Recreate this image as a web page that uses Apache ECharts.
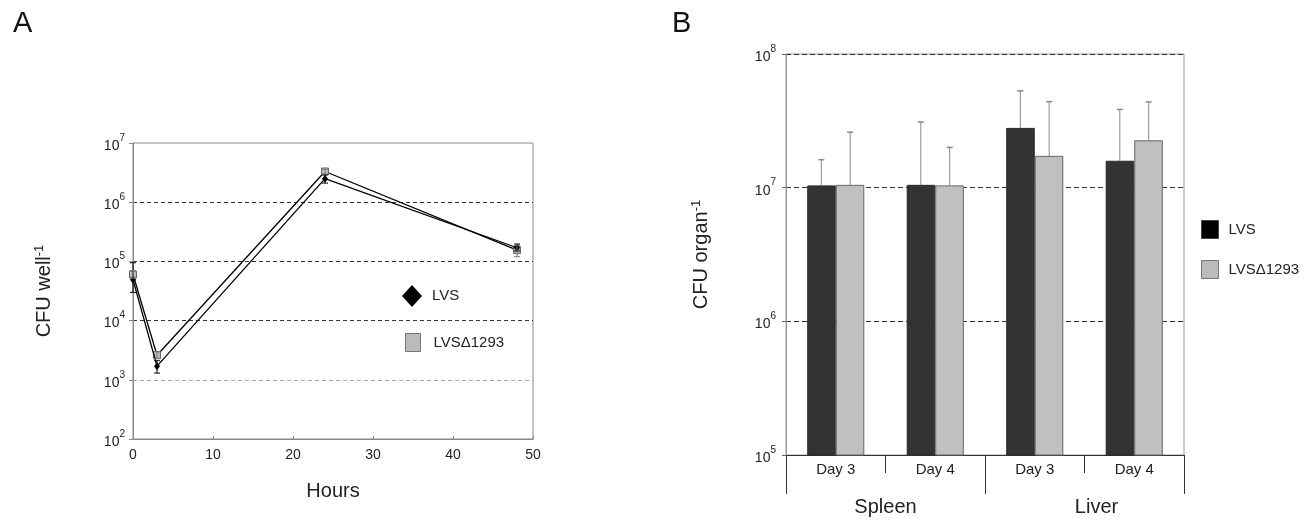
<!DOCTYPE html>
<html>
<head>
<meta charset="utf-8">
<title>CFU charts</title>
<script src="https://cdn.jsdelivr.net/npm/echarts@6.0.0/dist/echarts.min.js"></script>
<style>
  html, body { margin: 0; padding: 0; background: #fff; }
  #main { width: 1313px; height: 520px; }
</style>
</head>
<body>
<div id="main"></div>
<script>
// panel A: time course in wells
var hours = [0, 3, 24, 48];
var lvsWell = [4.9e4, 1.7e3, 2.5e6, 1.7e5];
var lvsWellLow = [3.0e4, 1.3e3, 2.1e6, 1.5e5];
var lvsWellHigh = [9.5e4, 2.1e3, 2.9e6, 1.9e5];
var mutWell = [6.0e4, 2.6e3, 3.3e6, 1.55e5];
var mutWellLow = [5.2e4, 2.3e3, 3.0e6, 1.2e5];
var mutWellHigh = [7.0e4, 3.0e3, 3.6e6, 2.0e5];

// panel B: organ burden
var dayLabels = ['Day 3', 'Day 4', 'Day 3', 'Day 4'];
var organs = ['Spleen', 'Liver'];
var lvsOrgan = [1.04e7, 1.05e7, 2.8e7, 1.59e7];
var lvsOrganTop = [1.62e7, 3.1e7, 5.3e7, 3.85e7];
var mutOrgan = [1.05e7, 1.04e7, 1.73e7, 2.26e7];
var mutOrganTop = [2.6e7, 2.0e7, 4.4e7, 4.38e7];

var FONT = 'Liberation Sans, Arial, sans-serif';

function powLabel(v) {
  return '{b|10}{s|' + Math.round(Math.log10(v)) + '}';
}
var powRich = {
  b: { fontSize: 14, color: '#222', fontFamily: FONT, lineHeight: 20, verticalAlign: 'bottom' },
  s: { fontSize: 10, color: '#222', fontFamily: FONT, lineHeight: 20, verticalAlign: 'top', padding: [0, 0, 3, 0] }
};
var nameRich = {
  a: { fontSize: 20, color: '#222', fontFamily: FONT, lineHeight: 26 },
  s: { fontSize: 13, color: '#222', fontFamily: FONT, lineHeight: 26, padding: [0, 0, 9, 0] }
};

// error bars for the time course (both directions)
function errA(color) {
  return function (params, api) {
    var lo = api.coord([api.value(0), api.value(1)]);
    var hi = api.coord([api.value(0), api.value(2)]);
    var st = { stroke: color, lineWidth: 1 };
    return {
      type: 'group',
      children: [
        { type: 'line', shape: { x1: lo[0], y1: lo[1], x2: hi[0], y2: hi[1] }, style: st },
        { type: 'line', shape: { x1: lo[0] - 3, y1: lo[1], x2: lo[0] + 3, y2: lo[1] }, style: st },
        { type: 'line', shape: { x1: hi[0] - 3, y1: hi[1], x2: hi[0] + 3, y2: hi[1] }, style: st }
      ]
    };
  };
}

// error bars on top of the bars (upper only)
function errB(side, color) {
  return function (params, api) {
    var c = api.value(0);
    var base = api.coord([c, api.value(1)]);
    var top = api.coord([c, api.value(2)]);
    var band = api.coord([c + 1, api.value(1)])[0] - base[0];
    var x = base[0] + side * band * 0.145;
    return {
      type: 'group',
      children: [
        { type: 'line', shape: { x1: x, y1: base[1], x2: x, y2: top[1] }, style: { stroke: color, lineWidth: 1 } },
        { type: 'line', shape: { x1: x - 3, y1: top[1], x2: x + 3, y2: top[1] }, style: { stroke: color, lineWidth: 1.5 } }
      ]
    };
  };
}

var chart = echarts.init(document.getElementById('main'));

var option = {
  backgroundColor: '#fff',
  animation: false,
  textStyle: { fontFamily: FONT },
  title: [
    { text: 'A', left: 8, top: 4, textStyle: { fontSize: 29, fontWeight: 'normal', color: '#111', fontFamily: FONT } },
    { text: 'B', left: 667, top: 4, textStyle: { fontSize: 29, fontWeight: 'normal', color: '#111', fontFamily: FONT } }
  ],
  grid: [
    { left: 133, top: 143, width: 400, height: 296, show: true, borderColor: '#888', borderWidth: 1 },
    { left: 786, top: 54, width: 398, height: 401, show: true, borderColor: '#999', borderWidth: 1 }
  ],
  legend: [
    {
      left: 402, top: 285, padding: 0, selectedMode: false, itemWidth: 20, itemHeight: 22,
      data: [{ name: 'LVS', icon: 'diamond', itemStyle: { color: '#000', borderWidth: 0 } }],
      textStyle: { fontSize: 15, color: '#222', padding: [0, 0, 0, 5] }
    },
    {
      left: 405, top: 333, padding: 0, selectedMode: false, itemWidth: 15, itemHeight: 18,
      data: [{ name: 'LVSΔ1293', icon: 'rect', itemStyle: { color: '#bbb', borderColor: '#777', borderWidth: 1 } }],
      textStyle: { fontSize: 15, color: '#222', padding: [0, 0, 0, 8] }
    },
    {
      left: 1201, top: 220, padding: 0, selectedMode: false, itemWidth: 17, itemHeight: 18,
      data: [{ name: 'LVS', icon: 'rect', itemStyle: { color: '#000', borderColor: '#444', borderWidth: 1 } }],
      textStyle: { fontSize: 15, color: '#222', padding: [0, 0, 0, 5] }
    },
    {
      left: 1201, top: 260, padding: 0, selectedMode: false, itemWidth: 17, itemHeight: 18,
      data: [{ name: 'LVSΔ1293', icon: 'rect', itemStyle: { color: '#bbb', borderColor: '#777', borderWidth: 1 } }],
      textStyle: { fontSize: 15, color: '#222', padding: [0, 0, 0, 5] }
    }
  ],
  xAxis: [
    {
      gridIndex: 0, type: 'value', min: 0, max: 50, interval: 10,
      name: 'Hours', nameLocation: 'middle', nameGap: 42,
      nameTextStyle: { fontSize: 20, color: '#222' },
      axisLine: { lineStyle: { color: '#888' } },
      axisTick: { show: true, inside: true, length: 3, lineStyle: { color: '#888' } },
      axisLabel: { fontSize: 14, color: '#222', margin: 9 },
      splitLine: { show: false }
    },
    {
      gridIndex: 1, type: 'category', data: dayLabels,
      axisLine: { show: true, lineStyle: { color: '#333' } },
      axisTick: { show: true, length: 18, lineStyle: { color: '#333' } },
      axisLabel: { fontSize: 15, color: '#222', margin: 7 },
      splitLine: { show: false }
    },
    {
      gridIndex: 1, type: 'category', position: 'bottom',
      data: [organs[0], { value: organs[1], textStyle: { padding: [0, 0, 0, 24] } }],
      axisLine: { show: false },
      axisTick: { show: true, length: 39, lineStyle: { color: '#333' } },
      axisLabel: { fontSize: 20, color: '#222', margin: 42 },
      splitLine: { show: false }
    }
  ],
  yAxis: [
    {
      gridIndex: 0, type: 'log', logBase: 10, min: 1e2, max: 1e7,
      name: '{a|CFU well}{s|-1}', nameLocation: 'middle', nameGap: 76,
      nameTextStyle: { rich: nameRich },
      axisLine: { show: true, lineStyle: { color: '#888' } },
      axisTick: { show: true, length: 4, lineStyle: { color: '#888' } },
      axisLabel: { formatter: powLabel, rich: powRich, margin: 8 },
      splitLine: {
        show: true, showMinLine: false, showMaxLine: false,
        lineStyle: { color: ['#aaa', '#333', '#333', '#333'], type: [4, 3], width: 1 }
      },
      minorTick: { show: false }
    },
    {
      gridIndex: 1, type: 'log', logBase: 10, min: 1e5, max: 1e8,
      name: '{a|CFU organ}{s|-1}', nameLocation: 'middle', nameGap: 72,
      nameTextStyle: { rich: nameRich },
      axisLine: { show: true, lineStyle: { color: '#999' } },
      axisTick: { show: true, length: 4, lineStyle: { color: '#666' } },
      axisLabel: { formatter: powLabel, rich: powRich, margin: 10 },
      splitLine: {
        show: true, showMinLine: false, showMaxLine: true,
        lineStyle: { color: '#333', type: [5, 3], width: 1 }
      }
    }
  ],
  series: [
    {
      name: 'LVSΔ1293', type: 'line', xAxisIndex: 0, yAxisIndex: 0,
      data: hours.map(function (h, i) { return [h, mutWell[i]]; }),
      symbol: 'rect', symbolSize: 7,
      lineStyle: { color: '#000', width: 1.3 },
      itemStyle: { color: '#bbb', borderColor: '#666', borderWidth: 1 },
      z: 3
    },
    {
      name: 'LVS', type: 'line', xAxisIndex: 0, yAxisIndex: 0,
      data: hours.map(function (h, i) { return [h, lvsWell[i]]; }),
      symbol: 'diamond', symbolSize: [6, 8],
      lineStyle: { color: '#000', width: 1.3 },
      itemStyle: { color: '#000' },
      z: 4
    },
    {
      type: 'custom', xAxisIndex: 0, yAxisIndex: 0,
      renderItem: errA('#000'),
      encode: { x: 0, y: [1, 2] },
      data: hours.map(function (h, i) { return [h, lvsWellLow[i], lvsWellHigh[i]]; }),
      z: 5
    },
    {
      type: 'custom', xAxisIndex: 0, yAxisIndex: 0,
      renderItem: errA('#777'),
      encode: { x: 0, y: [1, 2] },
      data: hours.map(function (h, i) { return [h, mutWellLow[i], mutWellHigh[i]]; }),
      z: 5
    },
    {
      name: 'LVS', type: 'bar', xAxisIndex: 1, yAxisIndex: 1,
      data: lvsOrgan, barWidth: '28.7%', barGap: '0%',
      itemStyle: { color: '#333', borderColor: '#2a2a2a', borderWidth: 1 }
    },
    {
      name: 'LVSΔ1293', type: 'bar', xAxisIndex: 1, yAxisIndex: 1,
      data: mutOrgan, barWidth: '28.7%', barGap: '0%',
      itemStyle: { color: '#c0c0c0', borderColor: '#666', borderWidth: 1 }
    },
    {
      type: 'custom', xAxisIndex: 1, yAxisIndex: 1,
      renderItem: errB(-1, '#888'),
      encode: { x: 0, y: [1, 2] },
      data: dayLabels.map(function (d, i) { return [i, lvsOrgan[i], lvsOrganTop[i]]; }),
      z: 1
    },
    {
      type: 'custom', xAxisIndex: 1, yAxisIndex: 1,
      renderItem: errB(1, '#888'),
      encode: { x: 0, y: [1, 2] },
      data: dayLabels.map(function (d, i) { return [i, mutOrgan[i], mutOrganTop[i]]; }),
      z: 1
    }
  ]
};

chart.setOption(option);
</script>
</body>
</html>
